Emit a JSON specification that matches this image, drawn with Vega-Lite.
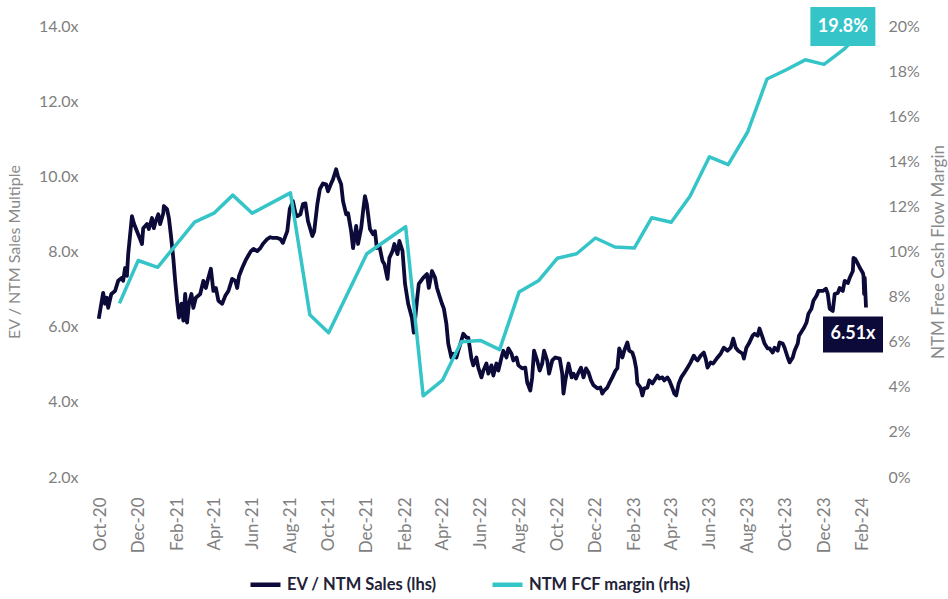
{
"$schema": "https://vega.github.io/schema/vega-lite/v6.json",
"width": 771,
"height": 451,
"autosize": {"type": "none"},
"padding": {"left": 95, "top": 26, "right": 82, "bottom": 122},
"background": "white",
"config": {
  "view": {"stroke": null},
  "font": "Lato",
  "axis": {"domain": false, "ticks": false, "grid": false, "labelFont": "Lato", "titleFont": "Lato", "labelColor": "#7f7f7f", "titleColor": "#8a8a8a", "titleFontWeight": "normal"}
},
"datasets": {
  "ev": [
{"date":"2020-09-29","value":6.21},{"date":"2020-10-06","value":6.90},{"date":"2020-10-09","value":6.61},{"date":"2020-10-12","value":6.77},{"date":"2020-10-14","value":6.50},{"date":"2020-10-19","value":6.87},{"date":"2020-10-25","value":6.95},{"date":"2020-10-30","value":7.22},
{"date":"2020-11-05","value":7.30},{"date":"2020-11-07","value":7.22},{"date":"2020-11-10","value":7.56},{"date":"2020-11-13","value":7.35},{"date":"2020-11-15","value":7.93},{"date":"2020-11-21","value":8.94},{"date":"2020-11-24","value":8.75},{"date":"2020-11-29","value":8.54},
{"date":"2020-12-04","value":8.33},{"date":"2020-12-07","value":8.20},{"date":"2020-12-09","value":8.62},{"date":"2020-12-15","value":8.73},{"date":"2020-12-18","value":8.60},{"date":"2020-12-23","value":8.89},{"date":"2020-12-26","value":8.62},{"date":"2020-12-29","value":8.81},
{"date":"2021-01-02","value":8.99},{"date":"2021-01-05","value":8.73},{"date":"2021-01-10","value":9.02},{"date":"2021-01-11","value":9.21},{"date":"2021-01-16","value":9.13},{"date":"2021-01-19","value":8.89},{"date":"2021-01-22","value":8.46},{"date":"2021-01-26","value":7.83},{"date":"2021-01-29","value":7.22},
{"date":"2021-02-01","value":6.69},{"date":"2021-02-04","value":6.24},{"date":"2021-02-08","value":6.61},{"date":"2021-02-11","value":6.16},{"date":"2021-02-14","value":6.87},{"date":"2021-02-17","value":6.11},{"date":"2021-02-20","value":6.61},{"date":"2021-02-24","value":6.87},{"date":"2021-02-27","value":6.50},
{"date":"2021-03-03","value":6.77},{"date":"2021-03-10","value":6.87},{"date":"2021-03-15","value":7.22},{"date":"2021-03-19","value":7.03},{"date":"2021-03-23","value":7.30},{"date":"2021-03-27","value":7.54},{"date":"2021-03-31","value":6.95},
{"date":"2021-04-04","value":7.03},{"date":"2021-04-08","value":6.69},{"date":"2021-04-14","value":6.61},{"date":"2021-04-19","value":6.82},{"date":"2021-04-24","value":6.95},{"date":"2021-04-30","value":7.27},
{"date":"2021-05-05","value":7.22},{"date":"2021-05-08","value":7.03},{"date":"2021-05-11","value":7.35},{"date":"2021-05-16","value":7.56},{"date":"2021-05-21","value":7.75},{"date":"2021-05-26","value":7.90},{"date":"2021-05-30","value":8.01},
{"date":"2021-06-03","value":8.07},{"date":"2021-06-09","value":8.01},{"date":"2021-06-14","value":8.09},{"date":"2021-06-18","value":8.20},{"date":"2021-06-25","value":8.33},{"date":"2021-06-30","value":8.38},
{"date":"2021-07-04","value":8.36},{"date":"2021-07-11","value":8.36},{"date":"2021-07-16","value":8.33},{"date":"2021-07-20","value":8.23},{"date":"2021-07-27","value":8.54},{"date":"2021-07-31","value":9.13},
{"date":"2021-08-05","value":9.34},{"date":"2021-08-09","value":9.02},{"date":"2021-08-12","value":8.94},{"date":"2021-08-17","value":8.99},{"date":"2021-08-21","value":9.26},{"date":"2021-08-25","value":9.28},{"date":"2021-08-29","value":8.81},
{"date":"2021-09-05","value":8.41},{"date":"2021-09-08","value":8.54},{"date":"2021-09-13","value":9.26},{"date":"2021-09-17","value":9.66},{"date":"2021-09-22","value":9.81},{"date":"2021-09-27","value":9.79},{"date":"2021-09-30","value":9.60},
{"date":"2021-10-05","value":9.81},{"date":"2021-10-08","value":9.92},{"date":"2021-10-13","value":10.19},{"date":"2021-10-16","value":10.00},{"date":"2021-10-21","value":9.79},{"date":"2021-10-24","value":9.34},{"date":"2021-10-29","value":8.99},
{"date":"2021-11-01","value":9.02},{"date":"2021-11-06","value":8.54},{"date":"2021-11-09","value":8.09},{"date":"2021-11-14","value":8.68},{"date":"2021-11-17","value":8.20},{"date":"2021-11-22","value":8.62},{"date":"2021-11-25","value":9.07},{"date":"2021-11-28","value":9.47},
{"date":"2021-12-01","value":9.26},{"date":"2021-12-06","value":8.60},{"date":"2021-12-11","value":8.46},{"date":"2021-12-14","value":8.54},{"date":"2021-12-17","value":8.09},{"date":"2021-12-21","value":8.15},{"date":"2021-12-26","value":7.75},{"date":"2021-12-29","value":7.67},
{"date":"2022-01-03","value":7.27},{"date":"2022-01-06","value":7.83},{"date":"2022-01-11","value":8.01},{"date":"2022-01-14","value":8.20},{"date":"2022-01-19","value":7.93},{"date":"2022-01-22","value":8.28},{"date":"2022-01-27","value":8.01},{"date":"2022-01-31","value":7.14},
{"date":"2022-02-05","value":6.61},{"date":"2022-02-11","value":6.24},{"date":"2022-02-14","value":5.84},{"date":"2022-02-19","value":6.69},{"date":"2022-02-22","value":7.14},
{"date":"2022-03-01","value":7.30},{"date":"2022-03-07","value":7.40},{"date":"2022-03-10","value":7.03},{"date":"2022-03-15","value":7.48},{"date":"2022-03-20","value":7.30},{"date":"2022-03-23","value":7.03},{"date":"2022-03-26","value":6.87},{"date":"2022-03-31","value":6.61},
{"date":"2022-04-03","value":6.48},{"date":"2022-04-07","value":6.08},{"date":"2022-04-10","value":5.55},{"date":"2022-04-15","value":5.18},{"date":"2022-04-18","value":5.28},{"date":"2022-04-23","value":5.18},{"date":"2022-04-26","value":5.36},
{"date":"2022-05-01","value":5.63},{"date":"2022-05-04","value":5.81},{"date":"2022-05-09","value":5.71},{"date":"2022-05-12","value":5.71},{"date":"2022-05-17","value":5.15},{"date":"2022-05-20","value":4.97},{"date":"2022-05-25","value":5.18},{"date":"2022-05-28","value":4.91},
{"date":"2022-06-02","value":4.65},{"date":"2022-06-05","value":4.83},{"date":"2022-06-10","value":5.02},{"date":"2022-06-13","value":4.75},{"date":"2022-06-18","value":4.97},{"date":"2022-06-21","value":4.70},{"date":"2022-06-26","value":5.02},{"date":"2022-06-29","value":4.83},
{"date":"2022-07-04","value":5.18},{"date":"2022-07-07","value":5.36},{"date":"2022-07-12","value":5.18},{"date":"2022-07-15","value":5.42},{"date":"2022-07-20","value":5.28},{"date":"2022-07-23","value":5.10},{"date":"2022-07-28","value":5.18},{"date":"2022-07-31","value":4.97},
{"date":"2022-08-06","value":4.89},{"date":"2022-08-11","value":4.91},{"date":"2022-08-14","value":4.52},{"date":"2022-08-19","value":4.30},{"date":"2022-08-22","value":4.65},{"date":"2022-08-25","value":5.36},{"date":"2022-08-30","value":5.10},
{"date":"2022-09-03","value":4.83},{"date":"2022-09-07","value":5.02},{"date":"2022-09-10","value":5.36},{"date":"2022-09-15","value":5.10},{"date":"2022-09-18","value":4.75},{"date":"2022-09-23","value":5.10},{"date":"2022-09-28","value":5.18},
{"date":"2022-10-05","value":5.15},{"date":"2022-10-09","value":4.75},{"date":"2022-10-11","value":4.22},{"date":"2022-10-14","value":4.57},{"date":"2022-10-19","value":5.02},{"date":"2022-10-24","value":4.65},{"date":"2022-10-27","value":4.75},{"date":"2022-10-31","value":4.62},
{"date":"2022-11-04","value":4.78},{"date":"2022-11-08","value":4.91},{"date":"2022-11-12","value":4.65},{"date":"2022-11-16","value":4.89},{"date":"2022-11-20","value":4.78},{"date":"2022-11-24","value":4.57},{"date":"2022-11-28","value":4.44},
{"date":"2022-12-04","value":4.36},{"date":"2022-12-09","value":4.38},{"date":"2022-12-12","value":4.22},{"date":"2022-12-15","value":4.30},{"date":"2022-12-20","value":4.38},{"date":"2022-12-23","value":4.49},{"date":"2022-12-28","value":4.65},
{"date":"2023-01-02","value":4.83},{"date":"2023-01-05","value":4.89},{"date":"2023-01-08","value":5.42},{"date":"2023-01-13","value":5.18},{"date":"2023-01-16","value":5.36},{"date":"2023-01-21","value":5.58},{"date":"2023-01-24","value":5.36},{"date":"2023-01-29","value":5.31},
{"date":"2023-02-01","value":5.15},{"date":"2023-02-04","value":4.89},{"date":"2023-02-06","value":4.49},{"date":"2023-02-11","value":4.38},{"date":"2023-02-14","value":4.17},{"date":"2023-02-17","value":4.36},{"date":"2023-02-22","value":4.38},{"date":"2023-02-25","value":4.57},
{"date":"2023-03-02","value":4.49},{"date":"2023-03-05","value":4.57},{"date":"2023-03-10","value":4.70},{"date":"2023-03-13","value":4.62},{"date":"2023-03-18","value":4.65},{"date":"2023-03-21","value":4.57},{"date":"2023-03-26","value":4.65},{"date":"2023-03-29","value":4.57},
{"date":"2023-04-03","value":4.36},{"date":"2023-04-06","value":4.22},{"date":"2023-04-09","value":4.17},{"date":"2023-04-13","value":4.49},{"date":"2023-04-17","value":4.65},{"date":"2023-04-21","value":4.75},{"date":"2023-04-27","value":4.91},
{"date":"2023-05-02","value":5.05},{"date":"2023-05-07","value":5.23},{"date":"2023-05-10","value":5.15},{"date":"2023-05-13","value":5.10},{"date":"2023-05-18","value":5.23},{"date":"2023-05-23","value":5.31},{"date":"2023-05-26","value":5.15},{"date":"2023-05-29","value":4.91},
{"date":"2023-06-03","value":5.05},{"date":"2023-06-07","value":5.02},{"date":"2023-06-14","value":5.18},{"date":"2023-06-19","value":5.28},{"date":"2023-06-24","value":5.44},{"date":"2023-06-30","value":5.36},
{"date":"2023-07-05","value":5.44},{"date":"2023-07-09","value":5.68},{"date":"2023-07-13","value":5.44},{"date":"2023-07-17","value":5.36},{"date":"2023-07-24","value":5.28},{"date":"2023-07-26","value":5.15},{"date":"2023-07-30","value":5.44},
{"date":"2023-08-03","value":5.55},{"date":"2023-08-09","value":5.76},{"date":"2023-08-12","value":5.81},{"date":"2023-08-17","value":5.76},{"date":"2023-08-20","value":5.95},{"date":"2023-08-25","value":5.71},{"date":"2023-08-28","value":5.55},
{"date":"2023-09-02","value":5.42},{"date":"2023-09-05","value":5.42},{"date":"2023-09-10","value":5.31},{"date":"2023-09-13","value":5.44},{"date":"2023-09-18","value":5.36},{"date":"2023-09-21","value":5.58},{"date":"2023-09-26","value":5.55},{"date":"2023-09-29","value":5.44},
{"date":"2023-10-04","value":5.18},{"date":"2023-10-07","value":5.05},{"date":"2023-10-12","value":5.18},{"date":"2023-10-15","value":5.36},{"date":"2023-10-20","value":5.55},{"date":"2023-10-22","value":5.76},{"date":"2023-10-27","value":5.89},{"date":"2023-10-30","value":5.97},
{"date":"2023-11-03","value":6.11},{"date":"2023-11-06","value":6.34},{"date":"2023-11-11","value":6.48},{"date":"2023-11-14","value":6.69},{"date":"2023-11-19","value":6.82},{"date":"2023-11-22","value":6.95},{"date":"2023-11-29","value":6.95},
{"date":"2023-12-04","value":7.01},{"date":"2023-12-07","value":6.87},{"date":"2023-12-10","value":6.48},{"date":"2023-12-15","value":6.42},{"date":"2023-12-18","value":6.87},{"date":"2023-12-23","value":6.90},{"date":"2023-12-26","value":7.03},{"date":"2023-12-31","value":6.95},
{"date":"2024-01-03","value":7.22},{"date":"2024-01-08","value":7.16},{"date":"2024-01-11","value":7.30},{"date":"2024-01-16","value":7.48},{"date":"2024-01-17","value":7.83},{"date":"2024-01-20","value":7.80},{"date":"2024-01-24","value":7.67},{"date":"2024-01-28","value":7.54},
{"date":"2024-02-01","value":7.43},{"date":"2024-02-02","value":7.35},{"date":"2024-02-03","value":6.87},{"date":"2024-02-04","value":7.30},{"date":"2024-02-06","value":6.51}
  ],
  "fcf": [
{"date":"2020-11-01","value":7.7},{"date":"2020-12-01","value":9.6},{"date":"2021-01-01","value":9.3},{"date":"2021-03-01","value":11.3},{"date":"2021-04-01","value":11.7},{"date":"2021-05-01","value":12.5},{"date":"2021-06-01","value":11.7},{"date":"2021-08-01","value":12.6},{"date":"2021-09-01","value":7.2},{"date":"2021-10-01","value":6.4},{"date":"2021-12-01","value":9.9},{"date":"2022-02-01","value":11.1},{"date":"2022-03-01","value":3.6},{"date":"2022-04-01","value":4.3},{"date":"2022-05-01","value":6.0},{"date":"2022-06-01","value":6.05},{"date":"2022-07-01","value":5.65},{"date":"2022-08-01","value":8.2},{"date":"2022-09-01","value":8.7},{"date":"2022-10-01","value":9.7},{"date":"2022-11-01","value":9.9},{"date":"2022-12-01","value":10.6},{"date":"2023-01-01","value":10.2},{"date":"2023-02-01","value":10.15},{"date":"2023-03-01","value":11.5},{"date":"2023-04-01","value":11.3},{"date":"2023-05-01","value":12.45},{"date":"2023-06-01","value":14.2},{"date":"2023-07-01","value":13.85},{"date":"2023-08-01","value":15.3},{"date":"2023-09-01","value":17.65},{"date":"2023-10-01","value":18.05},{"date":"2023-11-01","value":18.5},{"date":"2023-12-01","value":18.3},{"date":"2024-01-01","value":18.95},{"date":"2024-02-01","value":19.8}
  ],
  "evlabel": [{"date":"2024-02-06","value":6.51,"label":"6.51x"}],
  "fcflabel": [{"date":"2024-02-01","value":19.8,"label":"19.8%"}]
},
"encoding": {
  "x": {"field": "date", "type": "temporal",
    "scale": {"type": "utc", "domain": [{"year":2020,"month":9,"date":23,"utc":true},{"year":2024,"month":2,"date":6,"utc":true}]},
    "axis": {"title": null, "format": "%b-%y", "labelAngle": -90, "labelFontSize": 17, "labelPadding": 20, "labelOverlap": false, "labelFlush": false,
      "values": [{"year":2020,"month":10,"date":1,"utc":true},{"year":2020,"month":12,"date":1,"utc":true},{"year":2021,"month":2,"date":1,"utc":true},{"year":2021,"month":4,"date":1,"utc":true},{"year":2021,"month":6,"date":1,"utc":true},{"year":2021,"month":8,"date":1,"utc":true},{"year":2021,"month":10,"date":1,"utc":true},{"year":2021,"month":12,"date":1,"utc":true},{"year":2022,"month":2,"date":1,"utc":true},{"year":2022,"month":4,"date":1,"utc":true},{"year":2022,"month":6,"date":1,"utc":true},{"year":2022,"month":8,"date":1,"utc":true},{"year":2022,"month":10,"date":1,"utc":true},{"year":2022,"month":12,"date":1,"utc":true},{"year":2023,"month":2,"date":1,"utc":true},{"year":2023,"month":4,"date":1,"utc":true},{"year":2023,"month":6,"date":1,"utc":true},{"year":2023,"month":8,"date":1,"utc":true},{"year":2023,"month":10,"date":1,"utc":true},{"year":2023,"month":12,"date":1,"utc":true},{"year":2024,"month":2,"date":1,"utc":true}]}
  }
},
"layer": [
  {
    "layer": [
      {
        "data": {"name": "ev"},
        "mark": {"type": "line", "strokeWidth": 3.8, "strokeJoin": "round"},
        "encoding": {
          "y": {"field": "value", "type": "quantitative", "scale": {"domain": [2, 14], "nice": false, "zero": false},
            "axis": {"orient": "left", "title": "EV / NTM Sales Multiple", "values": [2,4,6,8,10,12,14], "labelExpr": "format(datum.value, '.1f') + 'x'", "labelFontSize": 16, "labelPadding": 17, "titleFontSize": 16, "titlePadding": 16}},
          "color": {"datum": "EV / NTM Sales (lhs)", "type": "nominal",
            "scale": {"domain": ["EV / NTM Sales (lhs)", "NTM FCF margin (rhs)"], "range": ["#0b0a38", "#35c4c8"]},
            "legend": {"orient": "none", "legendX": 153, "legendY": 541, "direction": "horizontal", "title": null, "symbolType": "stroke", "symbolStrokeWidth": 4.5, "symbolSize": 900, "labelOffset": 4, "labelFontSize": 16.5, "labelFontWeight": "bold", "labelColor": "#222238", "labelFont": "Lato", "labelLimit": 400, "columnPadding": 46}}
        }
      },
      {
        "data": {"name": "evlabel"},
        "mark": {"type": "point", "shape": "M-1,-0.6H1V0.6H-1Z", "filled": true, "opacity": 1, "color": "#0b0a38", "size": 3600, "xOffset": -13, "yOffset": 27},
        "encoding": {"y": {"field": "value", "type": "quantitative"}}
      },
      {
        "data": {"name": "evlabel"},
        "mark": {"type": "text", "color": "white", "font": "Lato", "fontWeight": "bold", "fontSize": 18, "align": "center", "baseline": "middle", "dx": -13, "dy": 27},
        "encoding": {"y": {"field": "value", "type": "quantitative"}, "text": {"field": "label"}}
      }
    ]
  },
  {
    "layer": [
      {
        "data": {"name": "fcf"},
        "mark": {"type": "line", "strokeWidth": 3.5, "strokeJoin": "round"},
        "encoding": {
          "y": {"field": "value", "type": "quantitative", "scale": {"domain": [0, 20], "nice": false},
            "axis": {"orient": "right", "title": "NTM Free Cash Flow Margin", "titleAngle": -90, "values": [0,2,4,6,8,10,12,14,16,18,20], "labelExpr": "datum.value + '%'", "labelFontSize": 16, "labelPadding": 22, "titleFontSize": 17, "titlePadding": 28}},
          "color": {"datum": "NTM FCF margin (rhs)", "type": "nominal"}
        }
      },
      {
        "data": {"name": "fcflabel"},
        "mark": {"type": "point", "shape": "M-1,-0.6H1V0.6H-1Z", "filled": true, "opacity": 1, "color": "#35c4c8", "size": 4225, "xOffset": -20, "yOffset": -4},
        "encoding": {"y": {"field": "value", "type": "quantitative"}}
      },
      {
        "data": {"name": "fcflabel"},
        "mark": {"type": "text", "color": "white", "font": "Lato", "fontWeight": "bold", "fontSize": 18, "align": "center", "baseline": "middle", "dx": -20, "dy": -4},
        "encoding": {"y": {"field": "value", "type": "quantitative"}, "text": {"field": "label"}}
      }
    ]
  }
],
"resolve": {"scale": {"y": "independent"}}
}
